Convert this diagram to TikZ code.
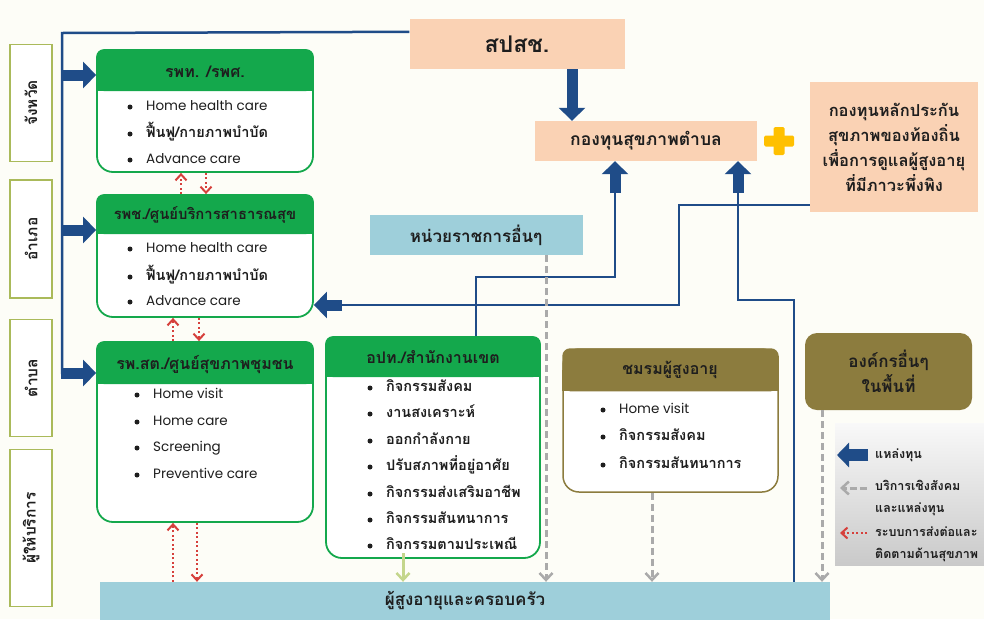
\documentclass[tikz,border=0pt]{standalone}
\usepackage{fontspec}
\setmainfont{Poppins}
\newfontfamily\thai[Script=Thai]{Loma}
\usetikzlibrary{arrows.meta,calc}
\definecolor{bg}{RGB}{253,253,247}
\definecolor{gfill}{RGB}{20,168,76}
\definecolor{olive}{RGB}{140,124,62}
\definecolor{peach}{RGB}{250,210,180}
\definecolor{lblue}{RGB}{158,207,218}
\definecolor{navy}{RGB}{31,76,136}
\definecolor{dgray}{RGB}{170,170,170}
\definecolor{rdot}{RGB}{214,64,60}
\definecolor{lgreen}{RGB}{196,214,140}
\definecolor{ycross}{RGB}{255,192,0}
\definecolor{lbl}{RGB}{170,186,90}
\definecolor{txt}{RGB}{30,30,30}
\newcommand\boxhead[3]{%
  \fill[#3, rounded corners=8pt] (#1.north west) rectangle ($(#1.north east)+(0,#2)$);
  \fill[#3] ($(#1.north west)+(0,#2/2)$) rectangle ($(#1.north east)+(0,#2)$);
}
\newcommand\bitem[4]{%
  \node[bul] (#1b) at (#2,#3) {};
  \node[itm] (#1) at (#2+16,#3) {#4};
}
\newcommand\thitem[1]{{\thai\bfseries\fontsize{14.5}{16}\selectfont #1}}
\tikzset{
  lblbox/.style={draw=lbl, line width=1.5pt, fill=white, rotate=90, minimum height=42pt, inner sep=0, text=txt, font=\thai\bfseries\fontsize{15.5}{17}\selectfont},
  gbody/.style={draw=gfill, line width=1.8pt, fill=white, rounded corners=16pt, inner sep=0},
  obody/.style={draw=olive, line width=1.5pt, fill=white, rounded corners=16pt, inner sep=0},
  htxt/.style={text=txt, font=\thai\bfseries\fontsize{16}{18}\selectfont, inner sep=0},
  bul/.style={circle, fill=txt, inner sep=0, minimum size=5pt},
  itm/.style={anchor=west, text=txt, inner sep=0, text height=9pt, text depth=2pt, font=\fontsize{13.5}{15}\selectfont},
  navyline/.style={draw=navy, line width=2.5pt},
  blockarrow/.style={draw=navy, line width=11pt, -{Triangle[length=13pt,width=26pt]}},
  gdash/.style={draw=dgray, line width=3pt, dash pattern=on 7pt off 4pt, -{Straight Barb[length=7pt,width=13pt,line width=2.5pt]}},
  rdots/.style={draw=rdot, line width=2.3pt, dash pattern=on 2pt off 2.5pt, -{Straight Barb[length=6pt,width=11pt,line width=2pt]}},
  lgarrow/.style={draw=lgreen, line width=3pt, -{Straight Barb[length=7pt,width=13pt,line width=2.5pt]}},
  fillbox/.style={inner sep=0, text=txt, font=\thai\bfseries\fontsize{16.5}{25}\selectfont, align=center},
}
\begin{document}
\begin{tikzpicture}[x=1pt,y=-1pt]
\path[use as bounding box, fill=bg] (0,0) rectangle (984,619);

% left level labels
\node[lblbox, minimum width=117pt] (lp) at (31,103) {จังหวัด};
\node[lblbox, minimum width=118pt] (la) at (31,239) {อำเภอ};
\node[lblbox, minimum width=117pt] (lt) at (31,378) {ตำบล};
\node[lblbox, minimum width=157pt] (ls) at (31,528) {ผู้ให้บริการ};

% top boxes
\node[fill=peach, minimum width=215pt, minimum height=50pt, inner sep=0, text=txt, font=\thai\bfseries\fontsize{23}{26}\selectfont] (spsch) at (517,44) {สปสช.};
\node[fill=peach, minimum width=222pt, minimum height=40pt, inner sep=0, text=txt, font=\thai\bfseries\fontsize{17.5}{20}\selectfont] (kong) at (646,141) {กองทุนสุขภาพตำบล};
\node[fill=ycross, minimum width=30pt, minimum height=11pt, inner sep=0, rounded corners=1.5pt] (crossh) at (779,141) {};
\node[fill=ycross, minimum width=11pt, minimum height=28pt, inner sep=0, rounded corners=1.5pt] (crossv) at (779,141) {};
\node[fill=peach, minimum width=168pt, minimum height=130pt, fillbox] (orng) at (894,147) {กองทุนหลักประกัน\\สุขภาพของท้องถิ่น\\เพื่อการดูแลผู้สูงอายุ\\ที่มีภาวะพึ่งพิง};
\node[fill=lblue, minimum width=213pt, minimum height=40pt, fillbox, font=\thai\bfseries\fontsize{17}{19}\selectfont] (gov) at (476,235) {หน่วยราชการอื่นๆ};

% bottom bar
\node[fill=lblue, minimum width=730pt, minimum height=38pt, fillbox, font=\thai\bfseries\fontsize{17}{19}\selectfont] (bar) at (465,601) {ผู้สูงอายุและครอบครัว};

% green boxes
\node[gbody, minimum width=216pt, minimum height=122pt] (b1) at (205,111) {};
\boxhead{b1}{42}{gfill}
\node[htxt] (b1h) at (205,72) {รพท. /รพศ.};
\bitem{b1i1}{130}{107}{Home health care}
\bitem{b1i2}{130}{134}{\thitem{ฟื้นฟู/กายภาพบำบัด}}
\bitem{b1i3}{130}{160}{Advance care}

\node[gbody, minimum width=216pt, minimum height=122pt] (b2) at (205,256) {};
\boxhead{b2}{40}{gfill}
\node[htxt, font=\thai\bfseries\fontsize{14.8}{17}\selectfont] (b2h) at (205,215) {รพช./ศูนย์บริการสาธารณสุข};
\bitem{b2i1}{130}{249}{Home health care}
\bitem{b2i2}{130}{277}{\thitem{ฟื้นฟู/กายภาพบำบัด}}
\bitem{b2i3}{130}{302}{Advance care}

\node[gbody, minimum width=216pt, minimum height=180pt] (b3) at (205,432) {};
\boxhead{b3}{43}{gfill}
\node[htxt] (b3h) at (205,365) {รพ.สต./ศูนย์สุขภาพชุมชน};
\bitem{b3i1}{137}{395}{Home visit}
\bitem{b3i2}{137}{422}{Home care}
\bitem{b3i3}{137}{448}{Screening}
\bitem{b3i4}{137}{475}{Preventive care}

\node[gbody, minimum width=214pt, minimum height=221pt] (b4) at (433,447.5) {};
\boxhead{b4}{41}{gfill}
\node[htxt] (b4h) at (433,357) {อปท./สำนักงานเขต};
\bitem{b4i1}{370}{388}{\thitem{กิจกรรมสังคม}}
\bitem{b4i2}{370}{414}{\thitem{งานสงเคราะห์}}
\bitem{b4i3}{370}{441}{\thitem{ออกกำลังกาย}}
\bitem{b4i4}{370}{467}{\thitem{ปรับสภาพที่อยู่อาศัย}}
\bitem{b4i5}{370}{494}{\thitem{กิจกรรมส่งเสริมอาชีพ}}
\bitem{b4i6}{370}{520}{\thitem{กิจกรรมสันทนาการ}}
\bitem{b4i7}{370}{546}{\thitem{กิจกรรมตามประเพณี}}

% olive boxes
\node[obody, minimum width=215pt, minimum height=143pt] (b5) at (670.5,420.5) {};
\boxhead{b5}{43}{olive}
\node[htxt] (b5h) at (670,370) {ชมรมผู้สูงอายุ};
\bitem{b5i1}{603}{410}{Home visit}
\bitem{b5i2}{603}{437}{\thitem{กิจกรรมสังคม}}
\bitem{b5i3}{603}{465}{\thitem{กิจกรรมสันทนาการ}}

\node[fill=olive, rounded corners=12pt, minimum width=167pt, minimum height=77pt, fillbox, font=\thai\bfseries\fontsize{17}{25}\selectfont] (org) at (888.5,371.5) {องค์กรอื่นๆ\\ในพื้นที่};

% legend
\node[top color=white!95!gray, bottom color=gray!42, minimum width=149pt, minimum height=142pt, inner sep=0] (leg) at (909.5,494) {};
\coordinate (lg1) at (868,455);
\coordinate (lg2) at (867,488);
\coordinate (lg3) at (867,533);
\draw[draw=navy, line width=12pt, -{Triangle[length=12pt,width=24pt]}] (lg1) -- (837,455);
\draw[gdash, dash pattern=on 7pt off 3pt] (lg2) -- (840,488);
\draw[rdots] (lg3) -- (840,533);
\begin{scope}[every node/.style={anchor=west, inner sep=0, text=txt, font=\thai\bfseries\fontsize{12.5}{22}\selectfont, align=left}]
\node (lt1) at (875,455) {แหล่งทุน};
\node (lt2) at (875,498) {บริการเชิงสังคม\\และแหล่งทุน};
\node (lt3) at (875,544) {ระบบการส่งต่อและ\\ติดตามด้านสุขภาพ};
\end{scope}

% navy connectors
\coordinate (topleft) at (62,33);
\draw[navyline] ($(spsch.north west)+(0,13)$) -- (topleft) -- (62,374);
\draw[blockarrow] (61,75) -- (b1.west |- 0,75);
\draw[blockarrow] (61,230) -- (b2.west |- 0,230);
\draw[blockarrow] (61,373) -- (b3.west |- 0,373);
\draw[blockarrow] (572,0 |- spsch.south) -- (572,0 |- kong.north);

\draw[navyline] (476,0 |- b4.north) -- (476,277) -- (615,277) -- (615,190);
\draw[blockarrow] (615,193) -- (615,0 |- kong.south);
\draw[navyline] (794,0 |- bar.north) -- (794,300) -- (738,300) -- (738,190);
\draw[blockarrow] (738,193) -- (738,0 |- kong.south);
\draw[navyline] (orng.west |- 0,205) -- (679,205) -- (679,305) -- (335,305);
\draw[blockarrow] (342,305) -- (b2.east |- 0,305);

% gray dashed (social services)
\draw[gdash] (546,0 |- gov.south) -- (546,0 |- bar.north);
\draw[gdash] (652,0 |- b5.south) -- (652,0 |- bar.north);
\draw[gdash] (822,0 |- org.south) -- (822,0 |- bar.north);

% red dotted referral arrows
\draw[rdots] (181,0 |- b2.north) -- (181,0 |- b1.south);
\draw[rdots] (206,0 |- b1.south) -- (206,0 |- b2.north);
\draw[rdots] (173,0 |- b3.north) -- (173,0 |- b2.south);
\draw[rdots] (199,0 |- b2.south) -- (199,0 |- b3.north);
\draw[rdots] (173,0 |- bar.north) -- (173,0 |- b3.south);
\draw[rdots] (197,0 |- b3.south) -- (197,0 |- bar.north);

% light green arrow
\draw[lgarrow] (403,553) -- (403,0 |- bar.north);
\end{tikzpicture}
\end{document}
